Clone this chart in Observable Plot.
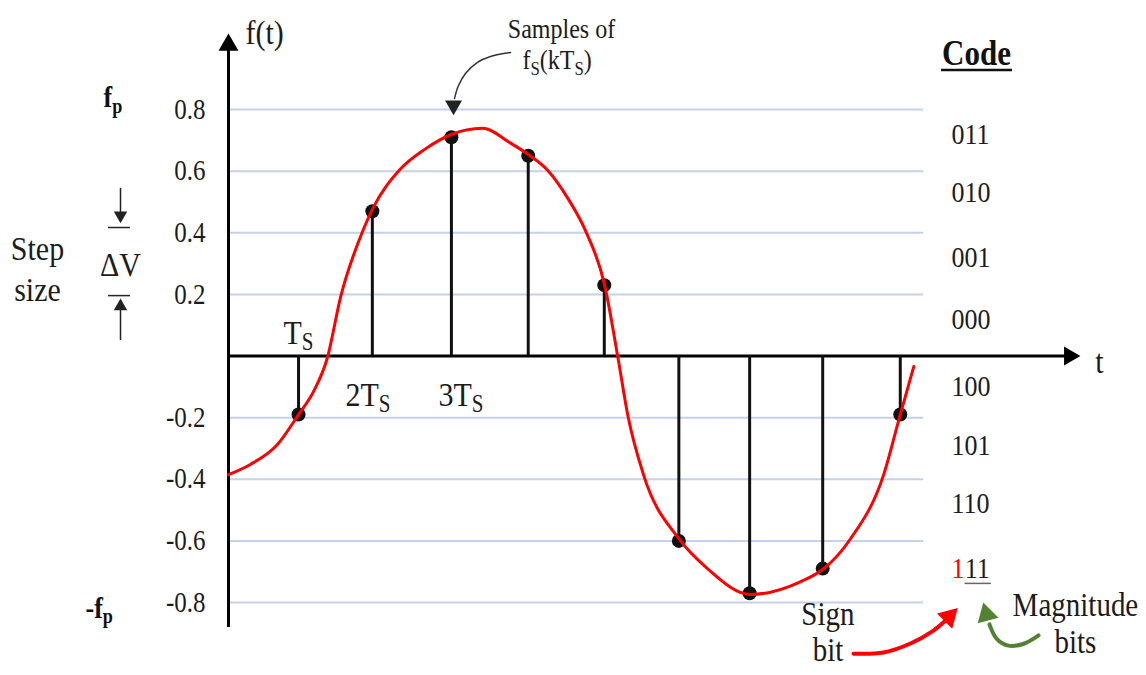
<!DOCTYPE html>
<html><head><meta charset="utf-8">
<script src="https://cdn.jsdelivr.net/npm/d3@7"></script>
<script src="https://cdn.jsdelivr.net/npm/@observablehq/plot@0.6"></script>
<style>html,body{margin:0;padding:0;background:#fff;} svg{display:block;} svg text{font-family:"Liberation Serif", serif;}</style>
</head><body><div id="chart"></div>
<script>
// ---- data (t in units of Ts, value in volts) ----
const sampleT = [0.93, 1.91, 2.96, 3.98, 4.99, 5.98, 6.92, 7.89, 8.92];
const sampleV = [-0.19, 0.47, 0.71, 0.65, 0.23, -0.60, -0.77, -0.69, -0.19];

const curveT = [0, 0.29, 0.65, 0.93, 1.13, 1.31, 1.49, 1.78, 1.91, 2.28, 2.62, 2.95, 3.37, 3.75, 3.98, 4.24, 4.50, 4.74, 4.99, 5.18, 5.30, 5.51, 5.98, 6.36, 6.93, 7.60, 7.89, 8.26, 8.70, 8.92, 9.10];
const curveV = [-0.385, -0.352, -0.287, -0.19, -0.115, -0.008, 0.193, 0.404, 0.476, 0.606, 0.673, 0.718, 0.739, 0.690, 0.654, 0.602, 0.514, 0.407, 0.235, -0.018, -0.19, -0.385, -0.593, -0.69, -0.774, -0.732, -0.693, -0.593, -0.385, -0.19, -0.034];

const gridLevels = [0.8, 0.6, 0.4, 0.2, -0.2, -0.4, -0.6, -0.8];
const yTicks = [0.8, 0.6, 0.4, 0.2, -0.2, -0.4, -0.6, -0.8];

const codes = ["011", "010", "001", "000", "100", "101", "110", "111"];
const codeLevels = [0.72, 0.53, 0.32, 0.12, -0.10, -0.29, -0.48, -0.69];

const tsLabels = ["T_{S}", "2T_{S}", "3T_{S}"];
const tsLabelT = [0.73, 1.554, 2.788];
const tsLabelV = [0.076, -0.125, -0.125];

// ---- build tables ----
const samples = sampleT.map((t, i) => ({t, v: sampleV[i]}));
const curve = curveT.map((t, i) => ({t, v: curveV[i]}));
const codeRows = codes.slice(0, 7).map((c, i) => ({c, v: codeLevels[i]}));
const tsRows = tsLabels.map((s, i) => ({s, t: tsLabelT[i], v: tsLabelV[i]}));

const FONT = "Liberation Serif";
const INK = "#1c1c1c";

// annotation geometry (data units)
const samplesArrow = [[3.745,0.985],[3.479,0.972],[3.306,0.953],[3.147,0.917],[3.054,0.878],[3.001,0.836]].map(([t,v])=>({t,v}));
const signArrow = [[8.299,-0.966],[8.697,-0.962],[9.056,-0.933],[9.361,-0.891],[9.507,-0.862]].map(([t,v])=>({t,v}));
const magArrow = [[10.756,-0.907],[10.570,-0.933],[10.357,-0.940],[10.198,-0.917],[10.105,-0.871]].map(([t,v])=>({t,v}));
const heads = [
  {t: 0, v: 1.009, r: 7.4, rot: 0, fill: "#000"},
  {t: 11.167, v: 0, r: 7, rot: 90, fill: "#000"},
  {t: 2.988, v: 0.813, r: 6.3, rot: 180, fill: "#222"},
  {t: -1.434, v: 0.456, r: 5, rot: 180, fill: "#222"},
  {t: -1.434, v: 0.161, r: 5, rot: 0, fill: "#222"},
  {t: 9.567, v: -0.846, r: 8, rot: 45, fill: "#ff0000"},
  {t: 10.065, v: -0.839, r: 8, rot: -15, fill: "#548235"}
];

const T = (extra) => Object.assign({text: d => d, fontFamily: FONT, fill: INK}, extra);

const chart = Plot.plot({
  width: 1146, height: 675,
  marginLeft: 228, marginRight: 67, marginTop: 109, marginBottom: 73,
  x: {domain: [0, 11.3], axis: null},
  y: {domain: [-0.8, 0.8]},
  r: {type: "identity"},
  style: {fontFamily: FONT, background: "#fff", color: INK, overflow: "visible"},
  marks: [
    Plot.ruleY(gridLevels, {x1: 0, x2: 9.23, stroke: "#c3d2e8", strokeWidth: 2}),
    Plot.axisY(yTicks, {tickSize: 0, tickPadding: 23, tickFormat: d => d.toFixed(1), fontSize: 25, fontFamily: FONT, label: null, fill: INK}),
    // axes
    Plot.ruleY([0], {x1: 0, x2: 11.12, stroke: "#000", strokeWidth: 3}),
    Plot.ruleX([0], {y1: -0.881, y2: 1.01, stroke: "#000", strokeWidth: 3}),
    // stems + samples
    Plot.ruleX(samples, {x: "t", y1: 0, y2: "v", stroke: "#111", strokeWidth: 3}),
    Plot.dot(samples, {x: "t", y: "v", r: 7, fill: "#111"}),
    // analog signal
    Plot.line(curve, {x: "t", y: "v", curve: "monotone-x", stroke: "#ff0000", strokeWidth: 3}),
    // annotation arrows
    Plot.line(samplesArrow, {x: "t", y: "v", curve: "catmull-rom", stroke: "#333", strokeWidth: 1.5}),
    Plot.line(signArrow, {x: "t", y: "v", curve: "catmull-rom", stroke: "#ff0000", strokeWidth: 4}),
    Plot.line(magArrow, {x: "t", y: "v", curve: "catmull-rom", stroke: "#548235", strokeWidth: 4}),
    Plot.ruleX([{t: -1.434, a: 0.544, b: 0.46}, {t: -1.434, a: 0.161, b: 0.05}], {x: "t", y1: "a", y2: "b", stroke: "#222", strokeWidth: 1.5}),
    Plot.ruleY([0.417, 0.196], {x1: -1.593, x2: -1.301, stroke: "#222", strokeWidth: 1.5}),
    Plot.dot(heads, {x: "t", y: "v", r: "r", rotate: "rot", fill: "fill", symbol: "triangle"}),
    // underlines
    Plot.ruleY([0.928], {x1: 9.468, x2: 10.41, stroke: "#111", strokeWidth: 2.5}),
    Plot.ruleY([-0.738], {x1: 9.78, x2: 10.13, stroke: "#666", strokeWidth: 1.5}),
    // texts
    Plot.text(["f(t)"], T({x: 0.226, y: 1.047, textAnchor: "start", fontSize: 30})),
    Plot.text(["t"], T({x: 11.565, y: -0.018, fontSize: 30})),
    Plot.text(tsRows, T({x: "t", y: "v", text: "s", textAnchor: "start", fontSize: 30})),
    Plot.text(codeRows, T({x: 9.6, y: "v", text: "c", textAnchor: "start", fontSize: 26})),
    Plot.text([codes[7].slice(0, 1)], T({x: 9.6, y: codeLevels[7], textAnchor: "start", fontSize: 26, fill: "#ff0000"})),
    Plot.text([codes[7].slice(1)], T({x: 9.775, y: codeLevels[7], textAnchor: "start", fontSize: 26})),
    Plot.text(["Code"], T({x: 9.932, y: 0.98, fontSize: 31, fontWeight: "bold", fill: "#111"})),
    Plot.text(["Step\nsize"], T({x: -2.536, y: 0.289, fontSize: 30, lineHeight: 1.19})),
    Plot.text(["ΔV"], T({x: -1.434, y: 0.297, fontSize: 30})),
    Plot.text(["f_{p}"], T({x: -1.66, y: 0.838, textAnchor: "start", fontSize: 26, fontWeight: "bold", fill: "#111"})),
    Plot.text(["-f_{p}"], T({x: -1.899, y: -0.818, textAnchor: "start", fontSize: 26, fontWeight: "bold", fill: "#111"})),
    Plot.text(["Samples of"], T({x: 4.422, y: 1.06, fontSize: 24})),
    Plot.text(["f_{S}(kT_{S})"], T({x: 3.904, y: 0.959, textAnchor: "start", fontSize: 24})),
    Plot.text(["Magnitude\nbits"], T({x: 11.246, y: -0.867, fontSize: 29, lineHeight: 1.11})),
    Plot.text(["Sign\nbit"], T({x: 7.96, y: -0.895, fontSize: 29, lineHeight: 1.08}))
  ]
});

// subscripts and the tall, narrow look of the original lettering
const NS = "http://www.w3.org/2000/svg";
chart.querySelectorAll("text").forEach(el => {
  const s = el.textContent;
  if (s.includes("_{") && el.children.length === 0) {
    const parts = [];
    const re = /_\{([^}]*)\}/g;
    let last = 0, m;
    while ((m = re.exec(s))) {
      if (m.index > last) parts.push([s.slice(last, m.index), false]);
      parts.push([m[1], true]);
      last = re.lastIndex;
    }
    if (last < s.length) parts.push([s.slice(last), false]);
    el.textContent = "";
    let down = false;
    for (const [txt, sub] of parts) {
      const ts = document.createElementNS(NS, "tspan");
      ts.textContent = txt;
      if (sub) { ts.setAttribute("font-size", "70%"); ts.setAttribute("dy", "0.28em"); down = true; }
      else if (down) { ts.setAttribute("dy", "-0.196em"); down = false; }
      el.appendChild(ts);
    }
  }
  const tr = el.getAttribute("transform");
  if (tr) el.setAttribute("transform", tr + " scale(1,1.15)");
});

document.getElementById("chart").appendChild(chart);
</script>
</body></html>
